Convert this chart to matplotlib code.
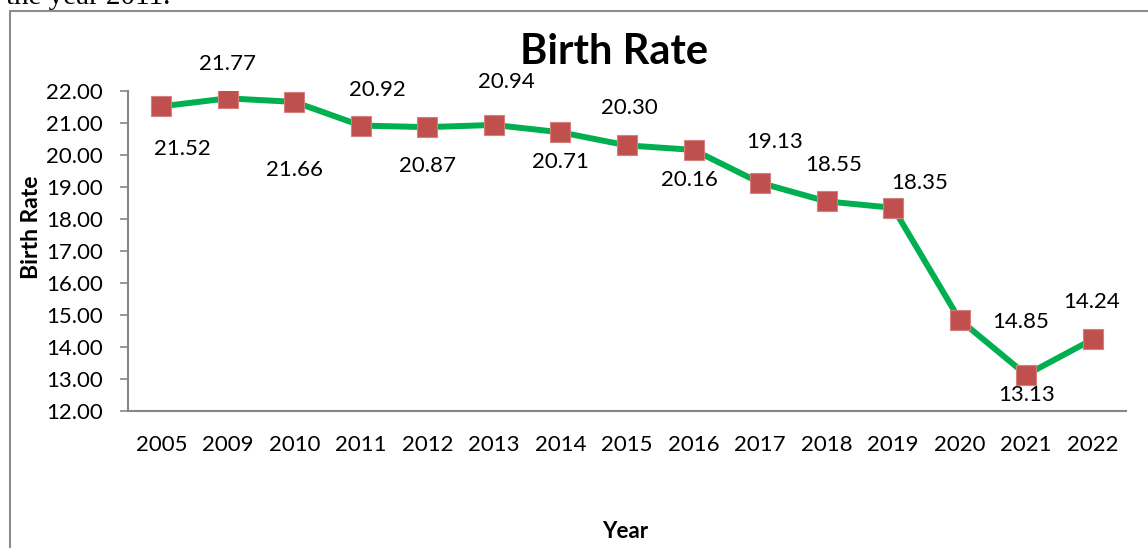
import matplotlib
matplotlib.use("Agg")
import matplotlib.pyplot as plt
from matplotlib.patches import Rectangle

# data
years = ["2005", "2009", "2010", "2011", "2012", "2013", "2014", "2015",
         "2016", "2017", "2018", "2019", "2020", "2021", "2022"]
birth_rate = [21.52, 21.77, 21.66, 20.92, 20.87, 20.94, 20.71, 20.30,
              20.16, 19.13, 18.55, 18.35, 14.85, 13.13, 14.24]
y_ticks = [12, 13, 14, 15, 16, 17, 18, 19, 20, 21, 22]

# where each value label sits relative to its marker (pixels, +down)
label_off = [(21, 43), (0, -34), (0, 68), (17, -36), (0, 39), (12, -43),
             (0, 30), (2, -37), (-4, 30), (15, -41), (7, -36), (27, -25),
             (61, 2), (0, 20), (-1, -37)]

plt.rcParams['font.family'] = ['Lato', 'DejaVu Sans']

fig = plt.figure(figsize=(11.48, 5.48), dpi=100)
ax = fig.add_axes([128/1148, 1 - 411/548, (1126-128)/1148, (411-91)/548])

xs = list(range(len(years)))
ax.plot(xs, birth_rate, color="#00B050", lw=4.3, marker="s", ms=14.5,
        mfc="#C0504D", mec="#D4807D", mew=0.8, zorder=3, solid_joinstyle="round")

for x, v, (dx, dy) in zip(xs, birth_rate, label_off):
    ax.annotate(f"{v:.2f}", (x, v), xytext=(dx*0.72, -dy*0.72),
                textcoords="offset points", ha="center", va="center",
                fontsize=16, color="black")

ax.set_xlim(-0.5, len(years) - 0.5)
ax.set_ylim(12, 22)
ax.set_xticks(xs)
ax.set_xticklabels(years)
ax.set_yticks(y_ticks)
ax.set_yticklabels([f"{t:.2f}" for t in y_ticks])
ax.tick_params(axis="x", length=0, pad=17, labelsize=16)
ax.tick_params(axis="y", length=6, width=1.2, color="#868686", pad=12, labelsize=16)

for s in ["top", "right"]:
    ax.spines[s].set_visible(False)
for s in ["left", "bottom"]:
    ax.spines[s].set_color("#868686")
    ax.spines[s].set_linewidth(1.5)

fig.text(614/1148, 1 - 52/548, "Birth Rate", ha="center", va="center",
         fontsize=30, fontweight="bold")
fig.text(32/1148, 1 - 227/548, "Birth Rate", ha="center", va="center",
         rotation=90, fontsize=16.5, fontweight="bold")
fig.text(625/1148, 1 - 531/548, "Year", ha="center", va="center",
         fontsize=16, fontweight="bold")

# chart frame, runs past the right and bottom edges
fig.patches.append(Rectangle((10/1148, -0.1), 1.2, 1 - 11/548 + 0.1,
                             transform=fig.transFigure, fill=False,
                             edgecolor="#8C8C8C", lw=1.5))

# clipped caption text from the page above
fig.text(6/1148, 1 - 4.5/548, "the year 2011.", ha="left", va="baseline",
         fontsize=21, family="Liberation Serif")

fig.savefig("out.png", dpi=100)
